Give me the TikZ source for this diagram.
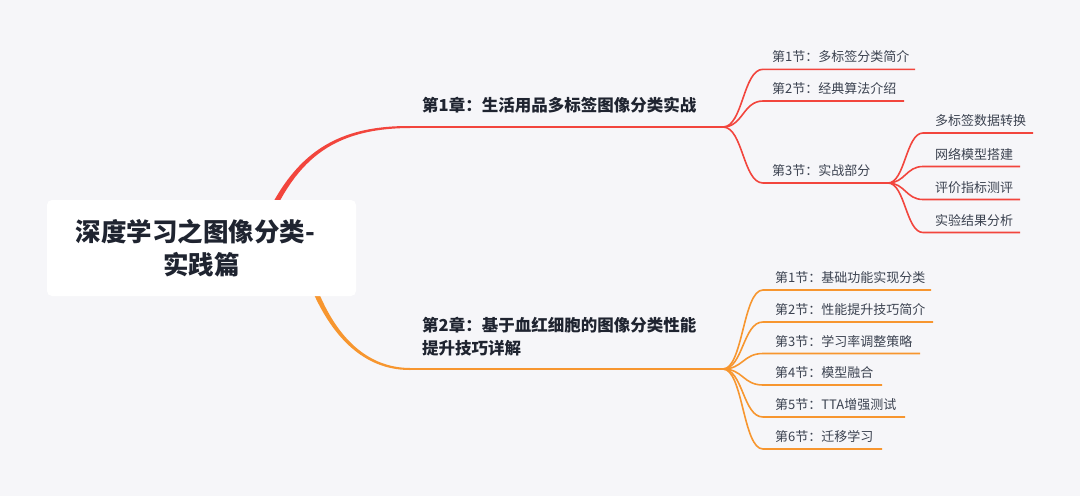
\documentclass[tikz,border=0pt]{standalone}
\usepackage{fontspec}
\setmainfont{Noto Sans CJK SC}
\definecolor{bgc}{HTML}{F6F6F9}
\definecolor{redc}{HTML}{F2453D}
\definecolor{orgc}{HTML}{F7962F}
\definecolor{darkt}{HTML}{1F2430}
\definecolor{sect}{HTML}{3B4250}
\tikzset{
  rootbox/.style={fill=white, rounded corners=5pt, minimum width=309pt, minimum height=96pt, inner sep=0pt, align=center, text=darkt, font=\fontsize{25.5}{33.5}\selectfont\bfseries},
  chap/.style={inner sep=0pt, text=darkt, align=left, font=\fontsize{16.5}{23}\selectfont\bfseries},
  sec/.style={inner sep=0pt, anchor=base west, text=sect, font=\fontsize{13}{16}\selectfont},
  redl/.style={draw=redc, line width=1.6pt},
  orgl/.style={draw=orgc, line width=1.6pt},
}
\begin{document}
\begin{tikzpicture}[x=1pt,y=-1pt]
\fill[bgc] (0,0) rectangle (1080,496);
\useasboundingbox (0,0) rectangle (1080,496);

% tapered main branches
\fill[redc] (259.2,230.85) .. controls (290.15,158.8) and (329.6,125.56) .. (410,126)
  -- (410,128) .. controls (330.4,128.44) and (293.85,161.2) .. (264.8,233.15) -- cycle;
\fill[orgc] (307.88,261.16) .. controls (324,319.07) and (355.73,367.69) .. (410,368)
  -- (410,370) .. controls (354.27,370.31) and (320,320.93) .. (302.12,262.84) -- cycle;

% coordinates
\coordinate (c1s) at (409,127);
\coordinate (c1e) at (723,127);
\coordinate (c2s) at (409,369);
\coordinate (c2e) at (723,369);

% root
\node[rootbox] (root) at (201.5,248) {深度学习之图像分类-\hspace*{12pt}\\实践篇};

% chapter 1
\draw[redl] (c1s) -- (c1e);
\node[chap, anchor=base west] (ch1) at (422,111) {第1章：生活用品多标签图像分类实战};

\coordinate (s11) at (763,69.3);  \coordinate (e11) at (915,69.3);
\coordinate (s12) at (763,101);   \coordinate (e12) at (904,101);
\coordinate (s13) at (763,183);   \coordinate (e13) at (888,183);
\draw[redl] (c1e) .. controls +(20,0) and +(-20,0) .. (s11) -- (e11);
\draw[redl] (c1e) .. controls +(20,0) and +(-20,0) .. (s12) -- (e12);
\draw[redl] (c1e) .. controls +(20,0) and +(-20,0) .. (s13) -- (e13);
\node[sec] (t11) at (772,61.8) {第1节：多标签分类简介};
\node[sec] (t12) at (772,93.5) {第2节：经典算法介绍};
\node[sec] (t13) at (772,175.5) {第3节：实战部分};

\coordinate (sa) at (923,133);   \coordinate (ea) at (1033,133);
\coordinate (sb) at (923,166.5); \coordinate (eb) at (1020,166.5);
\coordinate (sc) at (923,199.5); \coordinate (ec) at (1020,199.5);
\coordinate (sd) at (923,232.5); \coordinate (ed) at (1020,232.5);
\draw[redl] (e13) .. controls +(17,0) and +(-17,0) .. (sa) -- (ea);
\draw[redl] (e13) .. controls +(17,0) and +(-17,0) .. (sb) -- (eb);
\draw[redl] (e13) .. controls +(17,0) and +(-17,0) .. (sc) -- (ec);
\draw[redl] (e13) .. controls +(17,0) and +(-17,0) .. (sd) -- (ed);
\node[sec] (ta) at (935,125.5) {多标签数据转换};
\node[sec] (tb) at (935,159) {网络模型搭建};
\node[sec] (tc) at (935,192) {评价指标测评};
\node[sec] (td) at (935,225) {实验结果分析};

% chapter 2
\draw[orgl] (c2s) -- (c2e);
\node[chap, anchor=west] (ch2) at (422,336.5) {第2章：基于血红细胞的图像分类性能\\提升技巧详解};

\coordinate (s21) at (763,290);   \coordinate (e21) at (931,290);
\coordinate (s22) at (763,322);   \coordinate (e22) at (933,322);
\coordinate (s23) at (763,353.5); \coordinate (e23) at (920,353.5);
\coordinate (s24) at (763,385);   \coordinate (e24) at (882,385);
\coordinate (s25) at (763,417);   \coordinate (e25) at (905,417);
\coordinate (s26) at (763,449);   \coordinate (e26) at (882,449);
\foreach \i in {1,...,6}{
  \draw[orgl] (c2e) .. controls +(20,0) and +(-20,0) .. (s2\i) -- (e2\i);
}
\node[sec] (t21) at (775,282.5) {第1节：基础功能实现分类};
\node[sec] (t22) at (775,314.5) {第2节：性能提升技巧简介};
\node[sec] (t23) at (775,346) {第3节：学习率调整策略};
\node[sec] (t24) at (775,377.5) {第4节：模型融合};
\node[sec] (t25) at (775,409.5) {第5节：TTA增强测试};
\node[sec] (t26) at (775,441.5) {第6节：迁移学习};
\end{tikzpicture}
\end{document}
